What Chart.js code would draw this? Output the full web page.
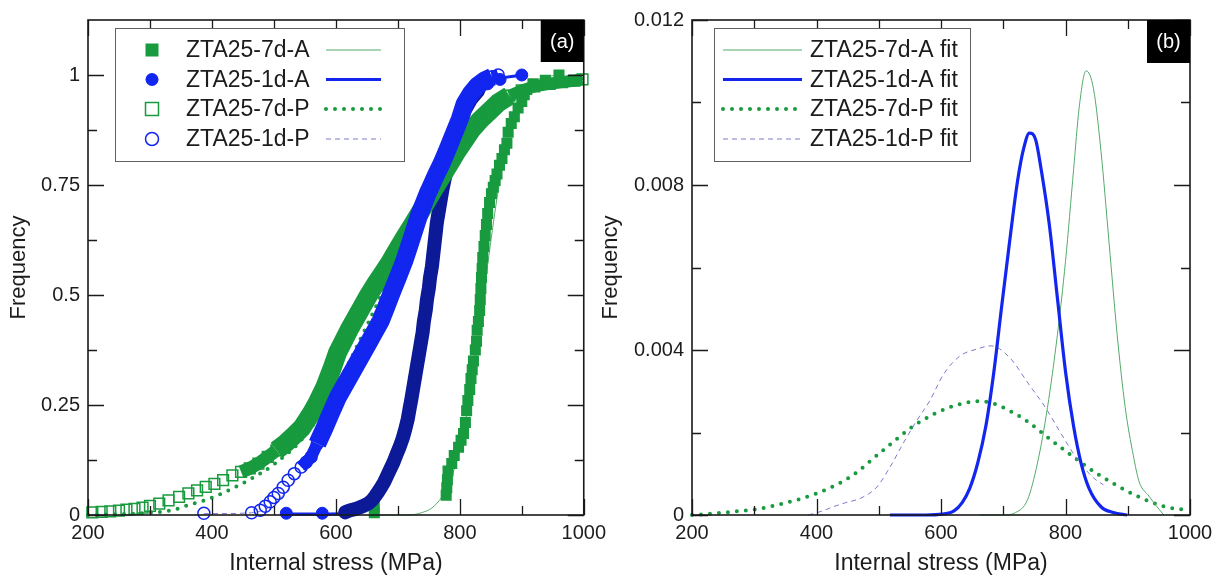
<!DOCTYPE html>
<html><head><meta charset="utf-8">
<script src="https://cdn.jsdelivr.net/npm/chart.js@4.4.0/dist/chart.umd.min.js"></script>
<style>
html,body{margin:0;padding:0;background:#fff;width:1225px;height:579px;overflow:hidden}
#ca{position:absolute;left:0;top:0}
#cb{position:absolute;left:590px;top:0}
</style></head><body>
<canvas id="ca" width="612" height="579"></canvas>
<canvas id="cb" width="635" height="579"></canvas>
<script>
// ---------- tick labels ----------
const X_TICKS = [200, 400, 600, 800, 1000];
const X_MINOR = [300, 500, 700, 900];
const YA_TICKS = [0, 0.25, 0.5, 0.75, 1];
const YA_LABELS = ['0', '0.25', '0.5', '0.75', '1'];
const YA_MINOR = [0.125, 0.375, 0.625, 0.875];
const YB_TICKS = [0, 0.004, 0.008, 0.012];
const YB_LABELS = ['0', '0.004', '0.008', '0.012'];
const YB_MINOR = [0.002, 0.006, 0.010];

// ---------- series names ----------
const NAMES_A = ['ZTA25-7d-A', 'ZTA25-1d-A', 'ZTA25-7d-P', 'ZTA25-1d-P'];
const NAMES_B = ['ZTA25-7d-A fit', 'ZTA25-1d-A fit', 'ZTA25-7d-P fit', 'ZTA25-1d-P fit'];

// ---------- panel (a): measured cumulative frequency ----------
const x7A = [662,662,778,779,780,781,787,791,798,802,806,809,811,813,816,818,820,822,825,827,828,830,832,833,834,835,836,837,839,841,843,845,848,851,854,857,860,864,868,872,876,878,883,888,894,900,904,908,918,938,960];
const y7A = [0.005,0.02,0.045,0.062,0.08,0.10,0.117,0.135,0.154,0.17,0.185,0.21,0.237,0.26,0.285,0.31,0.33,0.35,0.375,0.395,0.42,0.44,0.465,0.49,0.515,0.54,0.56,0.585,0.61,0.635,0.66,0.685,0.71,0.73,0.745,0.76,0.775,0.795,0.81,0.83,0.845,0.87,0.89,0.905,0.925,0.94,0.955,0.967,0.98,0.988,1.0];

const x1A = [520,578,615,622,630,638,645,652,658,663,668,673,678,683,688,693,698,703,708,712,716,719,722,725,728,731,734,737,740,742,745,747,750,752,755,757,759,761,763,766,769,772,775,778,782,787,793,800,808,818,830,845,865,900];
const y1A = [0.004,0.004,0.006,0.01,0.013,0.017,0.021,0.026,0.033,0.042,0.052,0.063,0.075,0.09,0.105,0.12,0.138,0.155,0.175,0.195,0.218,0.242,0.265,0.29,0.315,0.34,0.365,0.39,0.415,0.44,0.465,0.49,0.515,0.54,0.565,0.59,0.615,0.64,0.665,0.69,0.715,0.74,0.76,0.78,0.80,0.83,0.86,0.89,0.92,0.945,0.965,0.98,0.99,1.0];

const x7P = [207,222,236,250,262,275,288,300,315,330,347,362,376,390,404,418,433,447,461,475,490,504,518,532,545,560,571,582,593,603,612,621,631,641,653,665,677,688,700,712,724,736,748,760,772,784,795,807,819,833,848,862,880,900,920,945,965,985,998];
const y7P = [0.006,0.007,0.008,0.01,0.012,0.014,0.017,0.021,0.026,0.033,0.041,0.049,0.056,0.064,0.071,0.079,0.09,0.098,0.106,0.117,0.132,0.147,0.162,0.18,0.198,0.23,0.258,0.29,0.33,0.37,0.395,0.42,0.445,0.47,0.50,0.527,0.552,0.576,0.605,0.633,0.66,0.688,0.716,0.745,0.772,0.80,0.826,0.851,0.876,0.898,0.918,0.937,0.953,0.965,0.974,0.98,0.984,0.987,0.99];

const x1P = [387,464,478,486,494,500,507,515,523,533,544,552,560,570,582,592,603,613,623,633,643,653,662,672,681,690,700,710,718,726,734,741,748,755,762,771,780,790,800,808,818,828,840,852,862];
const y1P = [0.004,0.005,0.011,0.02,0.03,0.04,0.049,0.063,0.079,0.094,0.109,0.12,0.132,0.162,0.199,0.232,0.267,0.292,0.317,0.342,0.367,0.392,0.415,0.44,0.472,0.505,0.54,0.576,0.61,0.645,0.68,0.705,0.73,0.752,0.774,0.80,0.83,0.865,0.9,0.935,0.958,0.975,0.988,0.996,1.0];

// panel (a) fitted cumulative curves
const cx7A = [662,700,726,740,755,771,785,800,815,830,845,860,875,890,905,920,940,960];
const cy7A = [0,0,0.001,0.006,0.016,0.041,0.08,0.15,0.26,0.41,0.57,0.72,0.84,0.92,0.965,0.985,0.996,1.0];
const cx1A = [520,578,615,640,660,680,700,720,740,760,780,800,820,850,900];
const cy1A = [0.002,0.002,0.003,0.012,0.03,0.07,0.15,0.27,0.43,0.62,0.78,0.89,0.95,0.985,1.0];
const cx7P = [200,250,300,336,363,390,416,438,459,500,550,600,650,700,750,800,850,900,950,1000];
const cy7P = [0,0.002,0.005,0.011,0.023,0.034,0.049,0.064,0.079,0.115,0.18,0.29,0.43,0.58,0.72,0.83,0.91,0.955,0.98,0.993];
const cx1P = [387,464,500,530,560,600,650,700,750,800,830,862];
const cy1P = [0.003,0.005,0.025,0.07,0.13,0.25,0.42,0.58,0.74,0.89,0.955,0.985];

// ---------- panel (b): fitted density curves ----------
const px7A = [662,700,720,739,755,771,787,800,813,822,833,845,857,870,883,896,909,918,934,947,958];
const py7A = [0,0,0.00006,0.00037,0.00126,0.0026,0.00437,0.00615,0.00837,0.00988,0.01077,0.01033,0.00882,0.0066,0.00437,0.0026,0.00144,0.00082,0.00046,0.0002,0];
const px1A = [518,576,602,621,634,646,659,672,685,697,710,723,733,742,752,761,774,787,800,813,825,838,857,877,899];
const py1A = [0,0,0.00002,0.0001,0.0003,0.00064,0.00126,0.00215,0.00348,0.005,0.0066,0.0081,0.0089,0.00926,0.0091,0.00837,0.00704,0.00526,0.00348,0.00215,0.00126,0.00064,0.0002,0.00006,0];
const px7P = [200,230,266,304,346,400,454,507,561,614,662,723,787,851,915,960,1000];
const py7P = [0,0.00003,0.00008,0.00014,0.00028,0.00052,0.00092,0.00157,0.00221,0.00261,0.00276,0.00242,0.0017,0.001,0.00046,0.0002,0.00012];
const px1P = [387,410,427,447,470,497,518,539,561,582,604,630,657,681,710,742,768,793,819,845,861];
const py1P = [0,0.0001,0.0002,0.0003,0.0004,0.00068,0.00116,0.00173,0.00229,0.00277,0.00341,0.00385,0.00402,0.0041,0.00382,0.00315,0.0026,0.00197,0.00135,0.0009,0.00073];

// ---------- styles ----------
const FONT = '"Liberation Sans", Arial, Helvetica, sans-serif';
const TXT = '#1c1c1c';
const GREEN = '#189a3e', BLUE = '#1226f0', NAVY = '#0d1a98', PURPLE = '#7c7acb', LGREEN = '#55aa6b';
const NONE = 'rgba(0,0,0,0)';

function pts(xs, ys) { return xs.map((x, i) => ({ x: x, y: ys[i] })); }
// styling of the dense (overlapping-marker) part of a series: [from, to, width]
function band(col, ranges) {
  const find = c => ranges.find(r => c.p0.parsed.x >= r[0] && c.p0.parsed.x < r[1]);
  return {
    borderColor: c => find(c) ? col : NONE,
    borderWidth: c => { const r = find(c); return r ? r[2] : 1; }
  };
}
const LINE_STY = {
  thinGreen: { color: LGREEN, width: 1, dash: [], cap: 'butt' },
  thickBlue: { color: BLUE, width: 3.2, dash: [], cap: 'butt' },
  dotGreen: { color: GREEN, width: 4, dash: [0, 9], cap: 'round' },
  dashPurple: { color: PURPLE, width: 1, dash: [5, 4], cap: 'butt' }
};
function fitDS(xs, ys, s, order) {
  return { data: pts(xs, ys), showLine: true, pointRadius: 0, borderColor: s.color, borderWidth: s.width,
    borderDash: s.dash, borderCapStyle: s.cap, cubicInterpolationMode: 'monotone', order: order, clip: 6 };
}

function scalesCfg(yMax, yTicks, yLabels, yWidth, yTitlePad) {
  return {
    x: { type: 'linear', min: 200, max: 1000,
      afterBuildTicks: s => { s.ticks = X_TICKS.map(v => ({ value: v })); },
      afterFit: s => { s.height = 64; },
      grid: { display: false, drawTicks: false }, border: { display: false },
      ticks: { padding: 6, autoSkip: false, maxRotation: 0, color: TXT, font: { family: FONT, size: 20 }, callback: v => String(v) },
      title: { display: true, text: 'Internal stress (MPa)', color: TXT, font: { family: FONT, size: 23 }, padding: { top: 0, bottom: 2 } }
    },
    y: { type: 'linear', min: 0, max: yMax,
      afterBuildTicks: s => { s.ticks = yTicks.map(v => ({ value: v })); },
      afterFit: s => { s.width = yWidth; },
      grid: { display: false, drawTicks: false }, border: { display: false },
      ticks: { padding: 8, autoSkip: false, color: TXT, font: { family: FONT, size: 20 },
        callback: v => { const i = yTicks.indexOf(v); return i >= 0 ? yLabels[i] : ''; } },
      title: { display: true, text: 'Frequency', color: TXT, font: { family: FONT, size: 22 }, padding: { top: yTitlePad, bottom: 0 } }
    }
  };
}

function decor(o) {
  return { id: 'decor', afterDraw(chart) {
    const c = chart.ctx, a = chart.chartArea, sx = chart.scales.x, sy = chart.scales.y;
    c.save();
    c.strokeStyle = '#1a1a1a'; c.lineWidth = 1.3; c.beginPath();
    const vt = (v, len) => { const p = Math.round(sx.getPixelForValue(v)) + 0.5;
      c.moveTo(p, a.bottom); c.lineTo(p, a.bottom - len); c.moveTo(p, a.top); c.lineTo(p, a.top + len); };
    const ht = (v, len) => { const p = Math.round(sy.getPixelForValue(v)) + 0.5;
      c.moveTo(a.left, p); c.lineTo(a.left + len, p); c.moveTo(a.right, p); c.lineTo(a.right - len, p); };
    X_TICKS.forEach(v => vt(v, 16)); X_MINOR.forEach(v => vt(v, 9));
    o.yMaj.forEach(v => ht(v, 16)); o.yMin.forEach(v => ht(v, 9));
    c.stroke();
    c.lineWidth = 1.6; c.strokeRect(a.left, a.top, a.right - a.left, a.bottom - a.top);
    // legend
    const L = o.legend;
    c.fillStyle = '#fff'; c.fillRect(L.x, L.y, L.w, L.h);
    c.strokeStyle = '#606060'; c.lineWidth = 1; c.strokeRect(L.x + 0.5, L.y + 0.5, L.w, L.h);
    L.items.forEach((it, i) => {
      const y = L.rows[i];
      if (it.marker) {
        const m = it.marker, mx = L.mx;
        c.beginPath();
        if (m.shape === 'rect') c.rect(mx - 6.5, y - 6.5, 13, 13); else c.arc(mx, y, 6.5, 0, Math.PI * 2);
        if (m.fill) { c.fillStyle = m.color; c.fill(); }
        else { c.strokeStyle = m.color; c.lineWidth = 1.5; c.stroke(); }
      }
      if (it.line) {
        const s = it.line;
        c.beginPath(); c.strokeStyle = s.color; c.lineWidth = s.width; c.setLineDash(s.dash); c.lineCap = s.cap;
        c.moveTo(L.l0, y); c.lineTo(L.l1, y); c.stroke(); c.setLineDash([]); c.lineCap = 'butt';
      }
      c.fillStyle = TXT; c.font = '23px ' + FONT; c.textAlign = 'left'; c.textBaseline = 'middle';
      c.fillText(it.text, L.tx, y + 1);
    });
    // panel label
    c.fillStyle = '#000'; c.fillRect(a.right - o.lab.w, a.top, o.lab.w, o.lab.h);
    c.fillStyle = '#fff'; c.font = '20px ' + FONT; c.textAlign = 'center'; c.textBaseline = 'middle';
    c.fillText(o.lab.text, a.right - o.lab.w / 2, a.top + o.lab.h / 2 + 1);
    c.restore();
  } };
}

Chart.defaults.animation = false;

// ---------- chart (a) ----------
new Chart(document.getElementById('ca'), {
  type: 'scatter',
  data: { datasets: [
    { data: pts(x1P, y1P), showLine: true, borderColor: BLUE, borderWidth: 18, borderJoinStyle: 'round', borderCapStyle: 'butt',
      segment: band(BLUE, [[544, 570, 12], [570, 845, 18], [845, 900, 12]]), pointStyle: 'circle', pointRadius: 6, pointBorderWidth: 1.5,
      pointBorderColor: BLUE, pointBackgroundColor: NONE, order: 1, clip: 10 },
    { data: pts(x7P, y7P), showLine: true, borderColor: GREEN, borderWidth: 19, borderJoinStyle: 'round', borderCapStyle: 'butt',
      segment: band(GREEN, [[447, 500, 13], [500, 870, 19], [870, 1001, 12]]), pointStyle: 'rect', pointRadius: 7.6, pointBorderWidth: 1.5,
      pointBorderColor: GREEN, pointBackgroundColor: NONE, order: 2, clip: 10 },
    { data: pts(x1A, y1A), showLine: true, borderColor: NAVY, borderWidth: 14, borderJoinStyle: 'round', borderCapStyle: 'round',
      segment: band(NAVY, [[614, 830, 14]]), pointStyle: 'circle', pointRadius: 6, pointBorderWidth: 1,
      pointBorderColor: c => (c.parsed && c.parsed.x >= 614 && c.parsed.x < 840) ? NAVY : BLUE,
      pointBackgroundColor: c => (c.parsed && c.parsed.x >= 614 && c.parsed.x < 840) ? NAVY : BLUE, order: 3, clip: 10 },
    { data: pts(x7A, y7A), showLine: false, pointStyle: 'rect', pointRadius: 7.8, pointBorderWidth: 0,
      pointBackgroundColor: GREEN, pointBorderColor: GREEN, order: 4, clip: 10 },
    fitDS(cx1P, cy1P, LINE_STY.dashPurple, 5),
    fitDS(cx7P, cy7P, LINE_STY.dotGreen, 6),
    fitDS(cx1A, cy1A, LINE_STY.thickBlue, 7),
    fitDS(cx7A, cy7A, LINE_STY.thinGreen, 8)
  ] },
  options: {
    responsive: false, devicePixelRatio: 1, events: [],
    layout: { padding: { left: 0, right: 24, top: 17, bottom: 0 } },
    plugins: { legend: { display: false }, tooltip: { enabled: false } },
    scales: scalesCfg(1.125, YA_TICKS, YA_LABELS, 88, 6)
  },
  plugins: [decor({
    yMaj: YA_TICKS, yMin: YA_MINOR,
    legend: { x: 115, y: 28, w: 289, h: 133, rows: [50, 79.5, 109, 139], mx: 152, tx: 186, l0: 326, l1: 381,
      items: [
        { text: NAMES_A[0], marker: { shape: 'rect', fill: true, color: GREEN }, line: LINE_STY.thinGreen },
        { text: NAMES_A[1], marker: { shape: 'circle', fill: true, color: BLUE }, line: LINE_STY.thickBlue },
        { text: NAMES_A[2], marker: { shape: 'rect', fill: false, color: GREEN }, line: LINE_STY.dotGreen },
        { text: NAMES_A[3], marker: { shape: 'circle', fill: false, color: BLUE }, line: LINE_STY.dashPurple }
      ] },
    lab: { text: '(a)', w: 43, h: 42 }
  })]
});

// ---------- chart (b) ----------
new Chart(document.getElementById('cb'), {
  type: 'scatter',
  data: { datasets: [
    fitDS(px1A, py1A, LINE_STY.thickBlue, 1),
    fitDS(px7A, py7A, LINE_STY.thinGreen, 2),
    fitDS(px1P, py1P, LINE_STY.dashPurple, 3),
    fitDS(px7P, py7P, LINE_STY.dotGreen, 4)
  ] },
  options: {
    responsive: false, devicePixelRatio: 1, events: [],
    layout: { padding: { left: 0, right: 35, top: 17, bottom: 0 } },
    plugins: { legend: { display: false }, tooltip: { enabled: false } },
    scales: scalesCfg(0.012, YB_TICKS, YB_LABELS, 102, 8)
  },
  plugins: [decor({
    yMaj: YB_TICKS, yMin: YB_MINOR,
    legend: { x: 124, y: 28, w: 256, h: 133, rows: [50, 79.5, 109, 139], mx: 0, tx: 220, l0: 133, l1: 212,
      items: [
        { text: NAMES_B[0], line: LINE_STY.thinGreen },
        { text: NAMES_B[1], line: LINE_STY.thickBlue },
        { text: NAMES_B[2], line: LINE_STY.dotGreen },
        { text: NAMES_B[3], line: LINE_STY.dashPurple }
      ] },
    lab: { text: '(b)', w: 43, h: 43 }
  })]
});
</script>
</body></html>
